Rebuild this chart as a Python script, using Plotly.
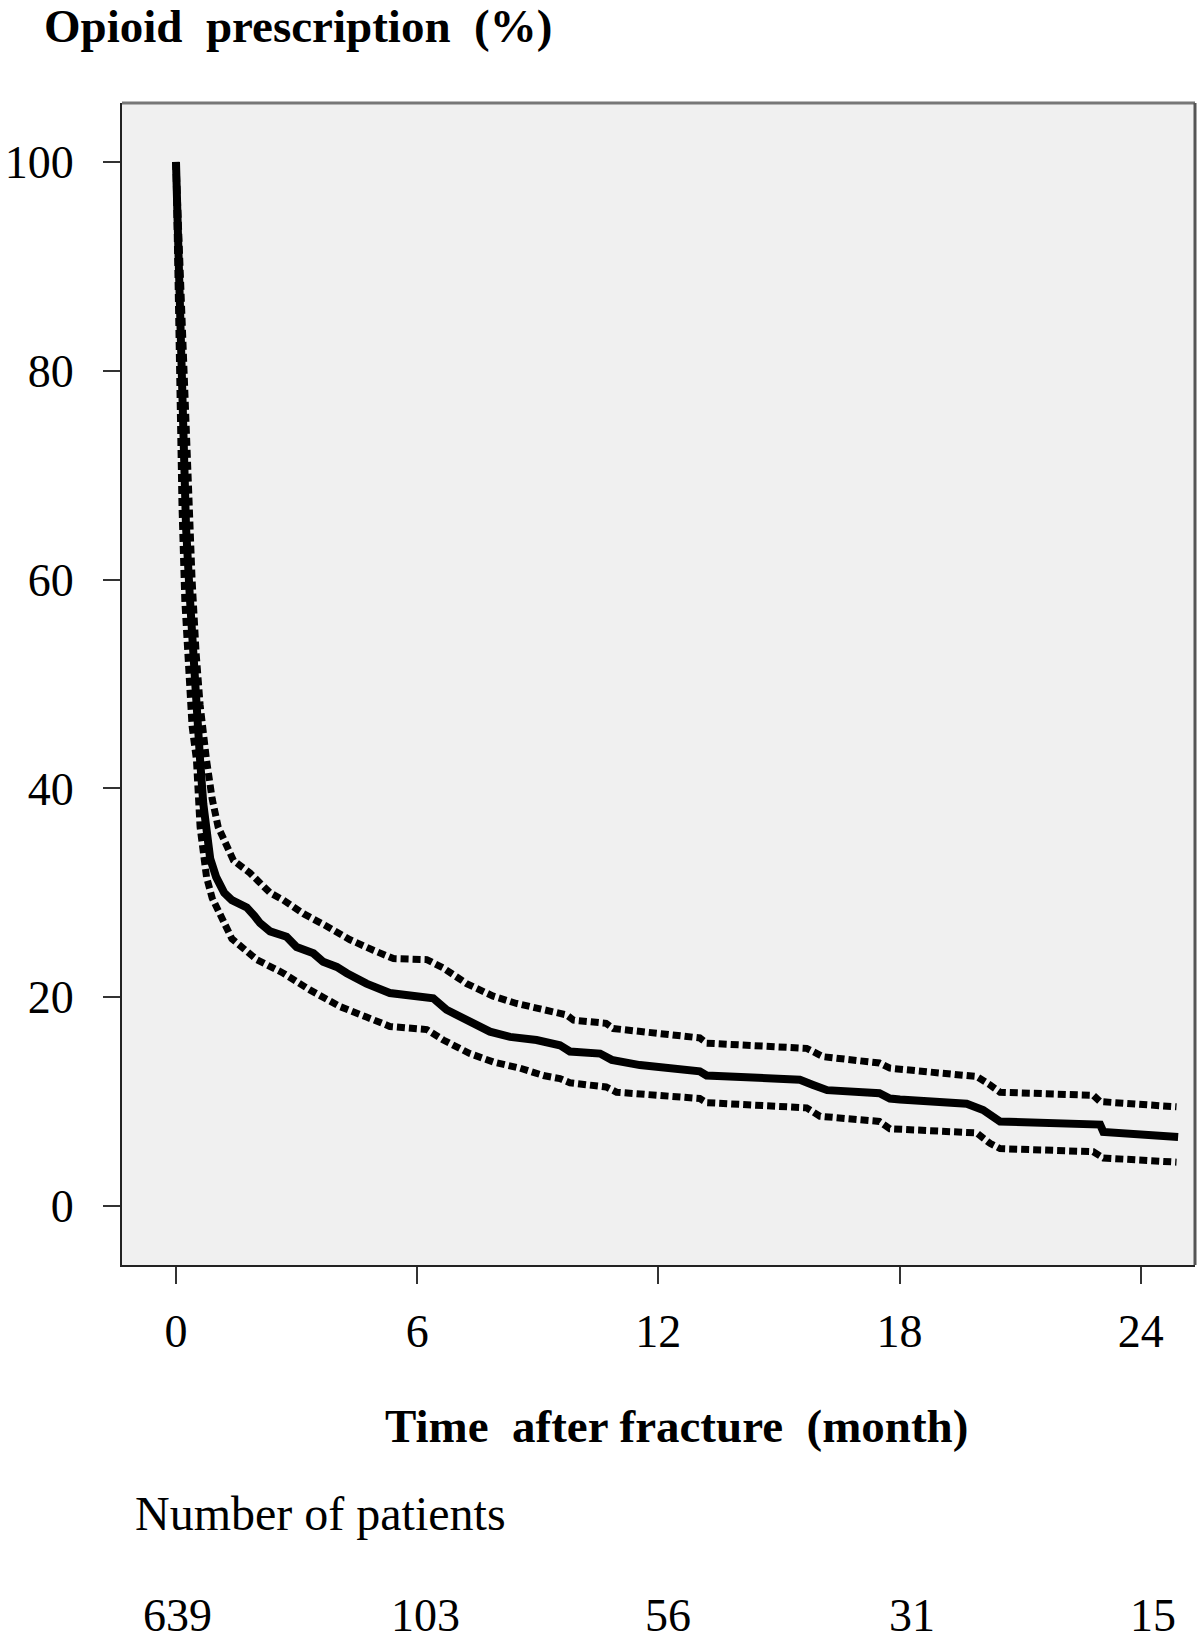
import plotly.graph_objects as go

# ---- data ----
months_mid = [0, 0.03, 0.08, 0.12, 0.18, 0.25, 0.35, 0.45, 0.52, 0.6, 0.68, 0.78, 0.85, 1.0, 1.2,
              1.39, 1.6, 1.76, 1.95, 2.09, 2.34, 2.6, 2.75, 3.0, 3.42, 3.66, 4.0, 4.25, 4.74, 5.32,
              5.7, 6.07, 6.4, 6.73, 7.23, 7.81, 8.31, 8.97, 9.55, 9.8, 10.55, 10.84, 11.54, 12.37,
              13.03, 13.2, 14.03, 15.52, 15.85, 16.2, 17.5, 17.76, 18.01, 19.67, 20.08, 20.5,
              22.99, 23.07, 24.93]
pct_mid = [100, 95, 86, 80, 72, 65, 58, 51, 47, 42.7, 38.5, 35.5, 33.3, 31.5, 30.0,
           29.3, 29.0, 28.6, 27.8, 27.1, 26.3, 26.0, 25.8, 24.8, 24.2, 23.4, 22.9, 22.3, 21.3, 20.4,
           20.2, 20.1, 19.9, 18.8, 17.8, 16.7, 16.2, 15.9, 15.4, 14.8, 14.6, 14.0, 13.5, 13.1,
           12.9, 12.5, 12.3, 12.1, 11.6, 11.1, 10.8, 10.3, 10.2, 9.8, 9.2, 8.1,
           7.8, 7.1, 6.6]

months_up = [0, 0.05, 0.12, 0.2, 0.3, 0.4, 0.5, 0.6, 0.76, 0.9, 1.05, 1.25, 1.43, 1.84, 2.34,
             2.67, 3.17, 3.75, 4.33, 4.91, 5.41, 6.24, 6.65, 7.23, 7.89, 8.47, 9.14, 9.72, 9.89,
             10.7, 10.88, 13.03, 13.2, 15.69, 16.1, 17.5, 17.76, 19.92, 20.25, 20.5, 22.82,
             22.99, 24.89]
pct_up = [100, 95, 87, 78, 68, 60, 53, 48, 42.7, 39, 36.3, 34.5, 33.1, 31.9, 30.0,
          29.3, 28.0, 26.8, 25.5, 24.5, 23.7, 23.6, 22.8, 21.3, 20.1, 19.4, 18.9, 18.3, 17.8,
          17.5, 17.0, 16.1, 15.6, 15.1, 14.3, 13.7, 13.2, 12.4, 11.6, 10.9, 10.6,
          10.0, 9.5]

months_low = [0, 0.03, 0.06, 0.1, 0.15, 0.22, 0.3, 0.4, 0.51, 0.6, 0.76, 0.9, 1.09, 1.39, 2.01,
              2.67, 3.33, 4.08, 4.74, 5.32, 6.24, 6.65, 7.31, 7.89, 8.56, 9.14, 9.55, 9.8, 10.7,
              10.96, 13.03, 13.2, 15.69, 16.02, 17.5, 17.76, 19.92, 20.25, 20.5, 22.82, 23.07,
              24.89]
pct_low = [100, 93, 85, 76, 67, 58, 51, 46, 42.7, 36.3, 31.5, 29.5, 28.0, 25.6, 23.6,
           22.3, 20.7, 19.1, 18.1, 17.2, 16.9, 15.9, 14.6, 13.8, 13.2, 12.5, 12.2, 11.8, 11.4,
           10.9, 10.3, 9.9, 9.4, 8.6, 8.1, 7.4, 7.0, 6.0, 5.5, 5.2, 4.6,
           4.2]

x_ticks = [0, 6, 12, 18, 24]
y_ticks = [0, 20, 40, 60, 80, 100]
at_risk_months = [0, 6, 12, 18, 24]
at_risk_counts = ["639", "103", "56", "31", "15"]

title_text = "Opioid\u00a0 prescription\u00a0 (%)"
x_title_text = "Time\u00a0 after fracture\u00a0 (month)"
risk_label = "Number of patients"

# ---- layout geometry ----
W, H = 1200, 1645
L, R, T, B = 122, 1195, 103, 1265
FONT = "Liberation Serif, Times New Roman, serif"


def px_x(p):
    return (p - L) / (R - L)


def px_y(p):
    return (B - p) / (B - T)


fig = go.Figure()
dotted = dict(color="black", width=7, dash="8px,4px")
fig.add_trace(go.Scatter(x=months_up, y=pct_up, mode="lines", line=dotted, showlegend=False))
fig.add_trace(go.Scatter(x=months_low, y=pct_low, mode="lines", line=dotted, showlegend=False))
fig.add_trace(go.Scatter(x=months_mid, y=pct_mid, mode="lines",
                         line=dict(color="black", width=8), showlegend=False))

fig.update_layout(
    width=W, height=H,
    margin=dict(l=L, r=W - R, t=T, b=H - B),
    paper_bgcolor="white",
    plot_bgcolor="#f0f0f0",
    font=dict(family=FONT, size=46, color="black"),
    title=dict(text="<b>" + title_text + "</b>", x=44 / W, xref="container", xanchor="left",
               y=1 - 26 / H, yref="container", yanchor="middle",
               font=dict(family=FONT, size=47, color="black")),
    showlegend=False,
)

fig.update_xaxes(range=[-1.343, 25.35], tickvals=x_ticks, ticktext=[str(v) for v in x_ticks],
                 automargin=False,
                 showgrid=False, zeroline=False, showline=True, linecolor="#222", linewidth=2,
                 ticks="outside", ticklen=17, tickwidth=2, tickcolor="#333",
                 ticklabelstandoff=8, tickfont=dict(family=FONT, size=46, color="black"))
fig.update_yaxes(range=[-5.65, 105.65], tickvals=y_ticks, ticktext=[str(v) for v in y_ticks],
                 automargin=False,
                 showgrid=False, zeroline=False, showline=True, linecolor="#222", linewidth=2,
                 ticks="outside", ticklen=17, tickwidth=2, tickcolor="#333",
                 ticklabelstandoff=20, tickfont=dict(family=FONT, size=46, color="black"))

# top & right frame (grey)
fig.add_shape(type="line", xref="paper", yref="paper", x0=0, x1=1, y0=1, y1=1,
              line=dict(color="#777", width=3))
fig.add_shape(type="line", xref="paper", yref="paper", x0=1, x1=1, y0=0, y1=1,
              line=dict(color="#555", width=3))

# x-axis title
fig.add_annotation(text="<b>" + x_title_text + "</b>", xref="paper", yref="paper",
                   x=px_x(676), y=px_y(1426), xanchor="center", yanchor="middle",
                   showarrow=False, font=dict(family=FONT, size=47, color="black"))
# at-risk label
fig.add_annotation(text=risk_label, xref="paper", yref="paper",
                   x=px_x(133), y=px_y(1513), xanchor="left", yanchor="middle",
                   showarrow=False, font=dict(family=FONT, size=48, color="black"))
# at-risk counts
shifts = [2, 8, 10, 12, 12]
for m, c, s in zip(at_risk_months, at_risk_counts, shifts):
    fig.add_annotation(text=c, xref="x", yref="paper", x=m, y=px_y(1615),
                       xanchor="center", yanchor="middle", xshift=s,
                       showarrow=False, font=dict(family=FONT, size=46, color="black"))

fig.write_html("out.html", config={"displayModeBar": False},
               post_script="document.body.style.margin='0';")
